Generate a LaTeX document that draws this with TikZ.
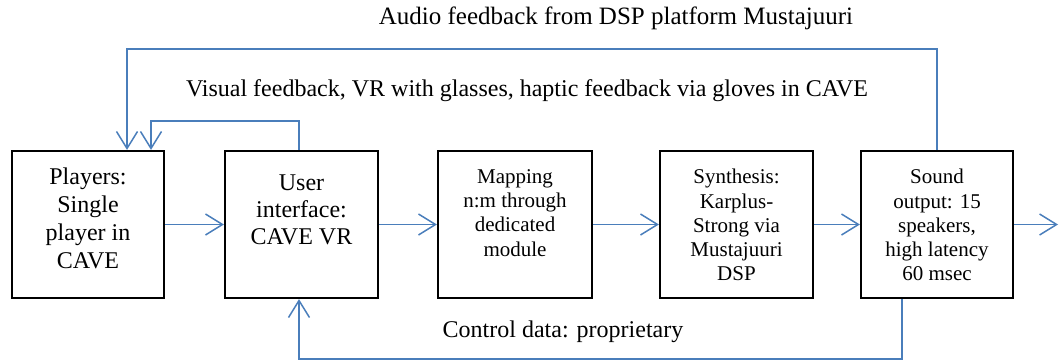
\documentclass[tikz,border=0pt]{standalone}
\usepackage{fontspec}
\setmainfont{Liberation Serif}
\usetikzlibrary{arrows.meta}
\definecolor{fb}{HTML}{4A7EBB}
\begin{document}
\begin{tikzpicture}[x=1pt,y=-1pt,
 box/.style={draw=black,line width=2.2pt,minimum width=152pt,minimum height=147pt,inner sep=0pt},
 big/.style={font=\fontsize{24}{28}\selectfont,align=center,inner sep=0pt,anchor=north},
 small/.style={font=\fontsize{21}{24.3}\selectfont,align=center,inner sep=0pt,anchor=north},
 lbl/.style={font=\fontsize{24}{28}\selectfont,inner sep=0pt},
 conn/.style={draw=fb,line width=1.5pt,-{Straight Barb[length=17pt,width=21pt]}}
]
\useasboundingbox (0,0) rectangle (1060,362);
\node[box] (p) at (88,224.5) {};
\node[box,minimum width=153pt] (ui) at (301.5,224.5) {};
\node[box,minimum width=154pt] (map) at (515,224.5) {};
\node[box,minimum width=153pt] (syn) at (736.5,224.5) {};
\node[box] (snd) at (937,224.5) {};

\node[big] (pt) at (88,168) {Players:\\Single\\player in\\CAVE};
\node[big,font=\fontsize{24}{27}\selectfont] (uit) at (301.5,175) {User\\interface:\\CAVE VR};
\node[small] (mt) at (515,169) {Mapping\\n:m through\\dedicated\\module};
\node[small] (st) at (736.5,169) {Synthesis:\\Karplus-\\Strong via\\Mustajuuri\\DSP};
\node[small] (sdt) at (937,169) {Sound\\output: 15\\speakers,\\high latency\\60 msec};

\node[lbl,font=\fontsize{25}{29}\selectfont] (la) at (616,18) {Audio feedback from DSP platform Mustajuuri};
\node[lbl] (lv) at (527,91) {Visual feedback, VR with glasses, haptic feedback via gloves in CAVE};
\node[lbl] (lc) at (563,332) {Control data: proprietary};

\draw[conn] (p.east) -- (ui.west);
\draw[conn] (ui.east) -- (map.west);
\draw[conn] (map.east) -- (syn.west);
\draw[conn] (syn.east) -- (snd.west);
\coordinate (out) at (1058,224.5);
\draw[conn] (snd.east) -- (out);
\draw[conn] (snd.north) -- (snd.north |- 0,49) -| ([xshift=39pt]p.north);
\draw[conn] ([xshift=-2.5pt]ui.north) -- ++(0,-29) -| ([xshift=63pt]p.north);
\draw[conn] ([xshift=-35pt]snd.south) -- ++(0,60) -| ([xshift=-2.5pt]ui.south);
\end{tikzpicture}
\end{document}
